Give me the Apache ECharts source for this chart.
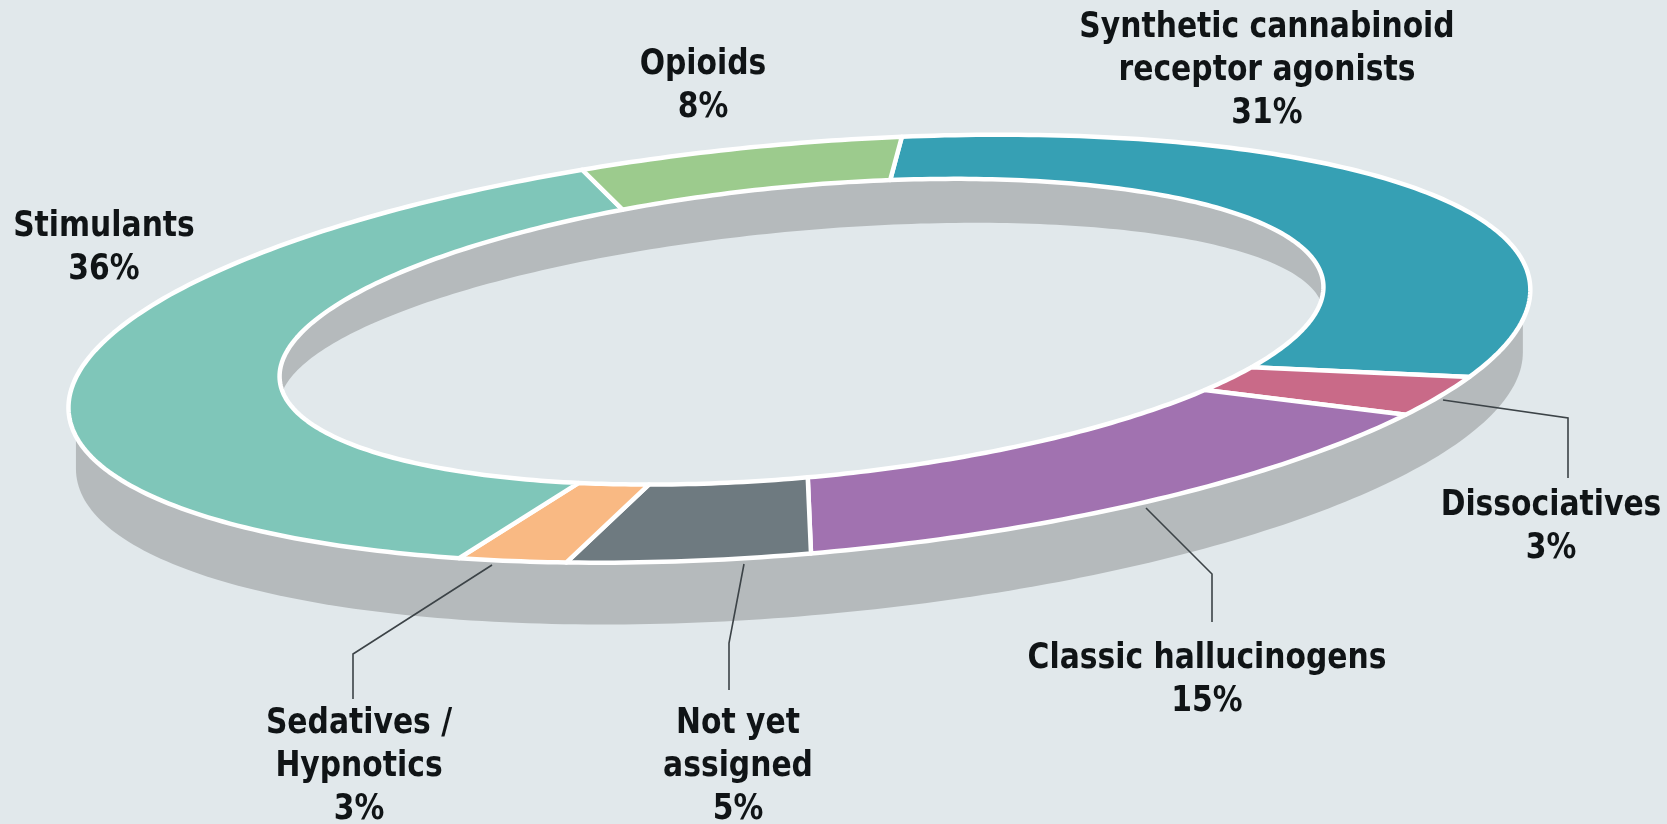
<!DOCTYPE html>
<html><head><meta charset="utf-8">
<style>html,body{margin:0;padding:0;background:#e1e8eb}#c{width:1667px;height:824px}</style>
<script src="https://cdn.jsdelivr.net/npm/echarts@6/dist/echarts.min.js"></script>
</head><body><div id="c"></div>
<script>
const categories = ['Synthetic cannabinoid\nreceptor agonists','Dissociatives','Classic hallucinogens','Not yet\nassigned','Sedatives /\nHypnotics','Stimulants','Opioids'];
const shares = [31,3,15,5,3,36,8];
const sliceColors = ['#36a0b4','#c96a88','#a172b0','#6e7a80','#f9b983','#7fc6b9','#9ccb8d'];
const labelAnchors = [[1267,71],[1551,527],[1207,680],[738,767],[359,767],[104,248],[703,86]];
const leaderLines = [null,[[1443,400],[1568,418],[1568,478]],[[1146,508],[1212,574],[1212,622]],[[744,564],[729,643],[729,690]],[[492,565],[353,654],[353,699]],null,null];
// hand-drawn artwork departs slightly from true radial cuts: degrees per slice boundary
const outerNudge = [-0.9,0,0,1.2,2.1,0,1.5,-0.9];
const innerNudge = [0.9,7,5.5,1.5,0.6,-2.4,-1.2,0.9];

const rad = Math.PI/180;
const outer = {cx:799.4,cy:348.7,a:733.5,b:205,phi:5*rad};
const inner = {cx:801.5,cy:331.7,a:524,b:145.6,phi:5.3*rad};
const wallRim = {cx:799.4,cy:348.7,a:726,b:205,phi:5*rad};
const holeRim = {cx:801.5,cy:331.7,a:524,b:128.6,phi:5.3*rad};
const wallDepth = 62, holeDepth = 28;
const startDeg = -83.6;
const total = shares.reduce((s,v)=>s+v,0);

function ell(e,deg,dy){
  const t=deg*rad, c=Math.cos(t)*e.a, s=Math.sin(t)*e.b;
  return [e.cx+c*Math.cos(e.phi)+s*Math.sin(e.phi), e.cy-c*Math.sin(e.phi)+s*Math.cos(e.phi)+(dy||0)];
}
function extremeDeg(e){return Math.atan2(e.b*Math.sin(e.phi),e.a*Math.cos(e.phi))/rad;}
// perspective warp from share-angle to ellipse parameter
function warpDeg(d){const t=d*rad;return d+1.2-2*Math.cos(t)-3*Math.sin(t);}

function wallPoints(){
  const p=[],t0=extremeDeg(wallRim);
  for(let i=0;i<=180;i++)p.push(ell(wallRim,t0+i,wallDepth));
  for(let i=180;i<=360;i++)p.push(ell(wallRim,t0+i,0));
  return p;
}
function holePoints(){
  const p=[],t0=extremeDeg(inner);
  for(let i=0;i<=180;i++)p.push(ell(inner,t0+i,0));
  for(let i=180;i<=360;i++)p.push(ell(holeRim,t0+i,holeDepth));
  return p;
}
function slicePoints(i){
  let c=0;for(let k=0;k<i;k++)c+=shares[k];
  const a=startDeg+c*360/total,b=a+shares[i]*360/total,pts=[];
  const n=Math.max(8,Math.ceil(shares[i]*4));
  const oa=warpDeg(a)+outerNudge[i],ob=warpDeg(b)+outerNudge[i+1];
  const ia=warpDeg(a)+innerNudge[i],ib=warpDeg(b)+innerNudge[i+1];
  for(let k=0;k<=n;k++)pts.push(ell(outer,oa+(ob-oa)*k/n));
  for(let k=n;k>=0;k--)pts.push(ell(inner,ia+(ib-ia)*k/n));
  return pts;
}

const chart=echarts.init(document.getElementById('c'),null,{renderer:'canvas'});
const graphics=[];
categories.forEach((name,i)=>{
  if(leaderLines[i])graphics.push({type:'polyline',z:20,shape:{points:leaderLines[i]},style:{stroke:'#3c4347',lineWidth:1.6,fill:null}});
  graphics.push({type:'text',z:21,x:labelAnchors[i][0],y:labelAnchors[i][1],scaleX:0.92,style:{
    text:name+'\n'+shares[i]+'%',fontFamily:'"DejaVu Sans Condensed","DejaVu Sans",sans-serif',fontWeight:'bold',fontSize:36,lineHeight:43,
    fill:'#101416',align:'center',verticalAlign:'middle'}});
});
chart.setOption({
  backgroundColor:'#e1e8eb',
  animation:false,
  series:[
    {type:'custom',coordinateSystem:'none',z:1,silent:true,data:[0],
     renderItem(){return {type:'group',children:[
       {type:'polygon',shape:{points:wallPoints()},style:{fill:'#b5babc'}},
       {type:'polygon',shape:{points:holePoints()},style:{fill:'#e1e8eb'}}
     ]};}},
    {type:'custom',coordinateSystem:'none',z:2,silent:true,
     data:shares.map((v,i)=>({name:categories[i],value:[i,v]})),
     renderItem(params,api){
       const i=api.value(0);
       return {type:'polygon',shape:{points:slicePoints(i)},
         style:{fill:sliceColors[i],stroke:'#ffffff',lineWidth:4.5,lineJoin:'round'}};
     }}
  ],
  graphic:graphics
});
</script></body></html>
